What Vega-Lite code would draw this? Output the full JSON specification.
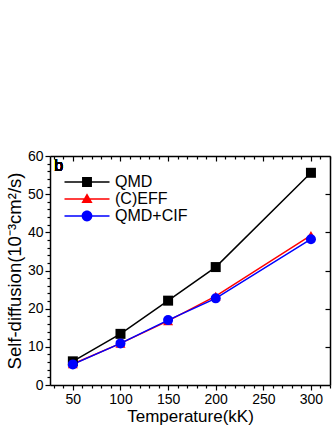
{
  "$schema": "https://vega.github.io/schema/vega-lite/v6.json",
  "width": 280,
  "height": 229,
  "autosize": {"type": "none"},
  "padding": {"left": 50, "top": 156, "right": 2, "bottom": 45},
  "background": "white",
  "config": {
    "view": {"stroke": null},
    "font": "Liberation Sans",
    "axis": {"grid": false, "domainColor": "black", "domainWidth": 1.5, "tickColor": "black", "tickWidth": 1.2, "labelColor": "black", "titleColor": "black", "labelFont": "Liberation Sans", "titleFont": "Liberation Sans", "titleFontWeight": "normal"}
  },
  "data": {"values": [
    {"T": 50, "D": 6.2, "method": "QMD"},
    {"T": 100, "D": 13.4, "method": "QMD"},
    {"T": 150, "D": 22.1, "method": "QMD"},
    {"T": 200, "D": 30.9, "method": "QMD"},
    {"T": 300, "D": 55.6, "method": "QMD"},
    {"T": 50, "D": 5.5, "method": "(C)EFF"},
    {"T": 100, "D": 10.9, "method": "(C)EFF"},
    {"T": 150, "D": 16.8, "method": "(C)EFF"},
    {"T": 200, "D": 23.3, "method": "(C)EFF"},
    {"T": 300, "D": 39.2, "method": "(C)EFF"},
    {"T": 50, "D": 5.4, "method": "QMD+CIF"},
    {"T": 100, "D": 10.9, "method": "QMD+CIF"},
    {"T": 150, "D": 17.0, "method": "QMD+CIF"},
    {"T": 200, "D": 22.7, "method": "QMD+CIF"},
    {"T": 300, "D": 38.2, "method": "QMD+CIF"}
  ]},
  "resolve": {"axis": {"x": "independent", "y": "independent"}, "scale": {"shape": "independent", "color": "independent"}},
  "layer": [
    {
      "mark": {"type": "line", "strokeWidth": 1.5},
      "encoding": {
        "x": {"field": "T", "type": "quantitative", "scale": {"domain": [26, 320], "nice": false, "zero": false},
          "axis": {"orient": "bottom", "values": [30,40,50,60,70,80,90,100,110,120,130,140,150,160,170,180,190,200,210,220,230,240,250,260,270,280,290,300,310,320],
            "tickSize": {"condition": {"test": "datum.value % 50 === 0", "value": 5}, "value": 3},
            "labelExpr": "datum.value % 50 === 0 ? datum.label : ''",
            "labelFontSize": 14, "labelPadding": 2, "title": "Temperature(kK)", "titleFontSize": 17, "titlePadding": 2}},
        "y": {"field": "D", "type": "quantitative", "scale": {"domain": [0, 60], "nice": false},
          "axis": {"orient": "left", "values": [0,2,4,6,8,10,12,14,16,18,20,22,24,26,28,30,32,34,36,38,40,42,44,46,48,50,52,54,56,58,60],
            "tickSize": {"condition": {"test": "datum.value % 10 === 0", "value": 5}, "value": 3},
            "labelExpr": "datum.value % 10 === 0 ? datum.label : ''",
            "labelFontSize": 14, "labelPadding": 2, "title": "Self-diffusion(10⁻³cm²/s)", "titleFontSize": 18.5, "titlePadding": 3}},
        "color": {"field": "method", "type": "nominal", "scale": {"domain": ["QMD", "(C)EFF", "QMD+CIF"], "range": ["#000000", "#ff0000", "#0000ff"]}, "legend": null}
      }
    },
    {
      "mark": {"type": "point", "filled": true, "opacity": 1},
      "encoding": {
        "x": {"field": "T", "type": "quantitative",
          "axis": {"orient": "top", "values": [30,40,50,60,70,80,90,100,110,120,130,140,150,160,170,180,190,200,210,220,230,240,250,260,270,280,290,300,310,320],
            "tickSize": {"condition": {"test": "datum.value % 50 === 0", "value": -5}, "value": -3},
            "labels": false, "title": null}},
        "y": {"field": "D", "type": "quantitative",
          "axis": {"orient": "right", "values": [10,20,30,40,50], "tickSize": -5, "labels": false, "title": null}},
        "color": {"field": "method", "type": "nominal", "scale": {"domain": ["QMD", "(C)EFF", "QMD+CIF"], "range": ["#000000", "#ff0000", "#0000ff"]}, "legend": null},
        "shape": {"field": "method", "type": "nominal", "scale": {"domain": ["QMD", "(C)EFF", "QMD+CIF"], "range": ["square", "triangle-up", "circle"]}, "legend": null},
        "size": {"value": 100}
      }
    },
    {
      "transform": [{"filter": "datum.T > 10000"}],
      "mark": {"type": "point", "filled": true, "opacity": 1},
      "encoding": {
        "x": {"field": "T", "type": "quantitative", "axis": null},
        "y": {"field": "D", "type": "quantitative", "axis": null},
        "color": {"field": "method", "type": "nominal", "scale": {"domain": ["QMD", "(C)EFF", "QMD+CIF"], "range": ["#000000", "#ff0000", "#0000ff"]},
          "legend": {"orient": "none", "legendX": 28, "legendY": 17, "title": null, "padding": 0,
            "symbolSize": 324, "labelOffset": 19, "labelFontSize": 16, "labelFont": "Liberation Sans", "labelColor": "black", "rowPadding": -2, "symbolStrokeWidth": 0}},
        "shape": {"field": "method", "type": "nominal",
          "scale": {"domain": ["QMD", "(C)EFF", "QMD+CIF"], "range": [
            "M-2.5,-0.08H2.5V0.08H-2.5ZM-0.55,-0.55H0.55V0.55H-0.55Z",
            "M-2.5,-0.08H2.5V0.08H-2.5ZM0,-0.65L0.62,0.45H-0.62Z",
            "M-2.5,-0.08H2.5V0.08H-2.5ZM-0.6,0A0.6,0.6,0,1,1,0.6,0A0.6,0.6,0,1,1,-0.6,0Z"]},
          "legend": {"orient": "none", "legendX": 28, "legendY": 17, "title": null, "padding": 0,
            "symbolSize": 324, "labelOffset": 19, "labelFontSize": 16, "labelFont": "Liberation Sans", "labelColor": "black", "rowPadding": -2, "symbolStrokeWidth": 0}},
        "size": {"value": 324}
      }
    },
    {
      "mark": {"type": "text", "text": "b", "fontSize": 16, "font": "Liberation Sans", "color": "black", "align": "left", "baseline": "middle"},
      "encoding": {
        "x": {"datum": 30.5, "type": "quantitative", "axis": null},
        "y": {"datum": 57.5, "type": "quantitative", "axis": null}
      }
    }
  ]
}
